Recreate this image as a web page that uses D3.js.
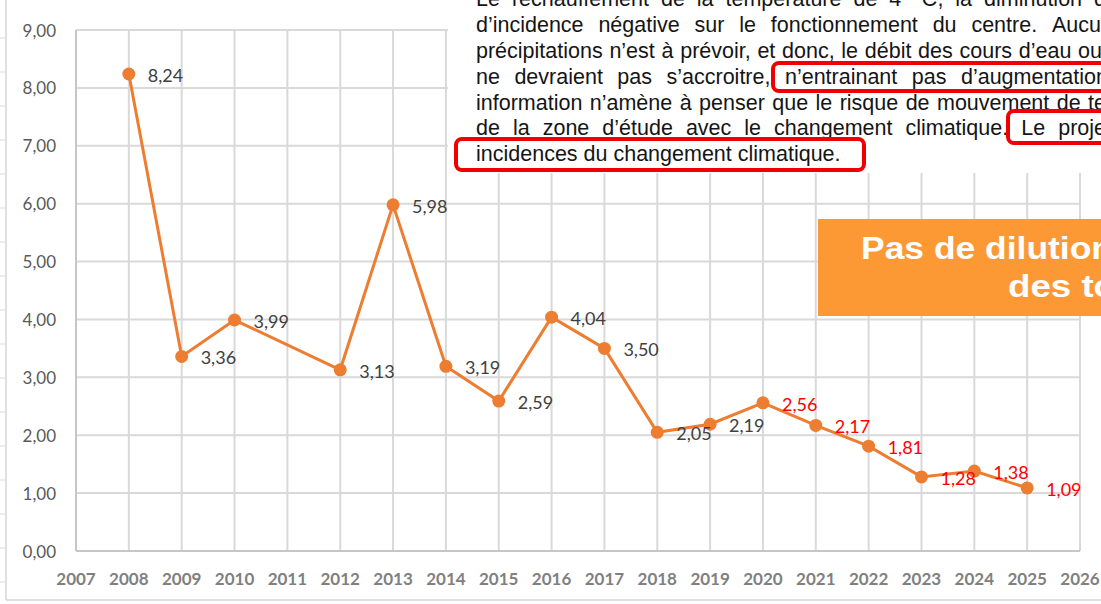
<!DOCTYPE html>
<html>
<head>
<meta charset="utf-8">
<script src="https://cdn.jsdelivr.net/npm/d3@7"></script>
<style>
  body { margin: 0; background: #fff; }
  svg { display: block; }
  .grid line { stroke: #d9d9d9; stroke-width: 2; }
  .axis-line { stroke: #c6c6c6; stroke-width: 2; }
  .ytick { font-family: Lato, sans-serif; font-size: 17px; fill: #595959; }
  .xtick { font-family: Lato, sans-serif; font-size: 17px; font-weight: bold; fill: #808080; }
  .label { font-family: Lato, sans-serif; font-size: 18px; }
  .para { font-family: "Liberation Sans", Arial, sans-serif; font-size: 21.5px; fill: #151515; }
  .banner { font-family: "Liberation Sans", Arial, sans-serif; font-size: 32px; font-weight: bold; fill: #fff; }
</style>
</head>
<body>
<div id="chart"></div>
<script>
// data
const years = [2008, 2009, 2010, 2012, 2013, 2014, 2015, 2016, 2017, 2018, 2019, 2020, 2021, 2022, 2023, 2024, 2025];
const values = [8.24, 3.36, 3.99, 3.13, 5.98, 3.19, 2.59, 4.04, 3.50, 2.05, 2.19, 2.56, 2.17, 1.81, 1.28, 1.38, 1.09];
const xTicks = [2007, 2008, 2009, 2010, 2011, 2012, 2013, 2014, 2015, 2016, 2017, 2018, 2019, 2020, 2021, 2022, 2023, 2024, 2025, 2026];
const yTicks = [0, 1, 2, 3, 4, 5, 6, 7, 8, 9];
const redFrom = 2020;

// texte du rapport en surimpression
const paraLines = [
    "Le réchauffement de la température de 4 °C, la diminution d",
    "d’incidence négative sur le fonctionnement du centre. Aucu",
    "précipitations n’est à prévoir, et donc, le débit des cours d’eau ou",
    "ne devraient pas s’accroitre, n’entrainant pas d’augmentation",
    "information n’amène à penser que le risque de mouvement de te",
    "de la zone d’étude avec le changement climatique. Le proje",
    "incidences du changement climatique."
];
const bannerLines = ["Pas de dilution", "des to"];

const W = 1101, H = 604;
const svg = d3.select("#chart").append("svg").attr("width", W).attr("height", H);

const x = d3.scaleLinear().domain([2007, 2026]).range([76, 1080]);
const y = d3.scaleLinear().domain([0, 9]).range([551, 30]);
const fmt = d3.formatLocale({decimal: ",", thousands: " ", grouping: [3], currency: ["", "€"]}).format(".2f");

// cadre extérieur (feuille)
svg.append("line").attr("x1", 6).attr("x2", 6).attr("y1", 0).attr("y2", 600).attr("stroke", "#d6d6d6").attr("stroke-width", 1.5);
svg.append("line").attr("x1", 6).attr("x2", W).attr("y1", 600).attr("y2", 600).attr("stroke", "#d6d6d6").attr("stroke-width", 1.5);
svg.append("g").selectAll("line").data(d3.range(38, 600, 34)).enter().append("line")
    .attr("x1", 0).attr("x2", 5).attr("y1", d => d).attr("y2", d => d).attr("stroke", "#dcdcdc");

// grille
const grid = svg.append("g").attr("class", "grid");
grid.selectAll(".gy").data(yTicks.slice(1)).enter().append("line")
    .attr("x1", x(2007)).attr("x2", x(2026)).attr("y1", d => y(d)).attr("y2", d => y(d));
grid.selectAll(".gx").data(xTicks.slice(1)).enter().append("line")
    .attr("x1", d => x(d)).attr("x2", d => x(d)).attr("y1", y(9)).attr("y2", y(0));
svg.append("line").attr("class", "axis-line").attr("x1", x(2007)).attr("x2", x(2007)).attr("y1", y(9)).attr("y2", y(0));
svg.append("line").attr("class", "axis-line").attr("x1", x(2007)).attr("x2", x(2026)).attr("y1", y(0)).attr("y2", y(0));

// étiquettes des axes
svg.append("g").selectAll("text").data(yTicks).enter().append("text").attr("class", "ytick")
    .attr("x", 56).attr("y", d => y(d)).attr("text-anchor", "end").attr("dominant-baseline", "central")
    .text(d => fmt(d));
svg.append("g").selectAll("text").data(xTicks).enter().append("text").attr("class", "xtick")
    .attr("x", d => x(d)).attr("y", 578).attr("text-anchor", "middle").attr("dominant-baseline", "central")
    .text(d => d);

// série
const pts = years.map((yr, i) => ({year: yr, value: values[i]}));
const line = d3.line().x(d => x(d.year)).y(d => y(d.value));
svg.append("path").datum(pts).attr("d", line).attr("fill", "none").attr("stroke", "#ed7d31").attr("stroke-width", 3);
svg.append("g").selectAll("circle").data(pts).enter().append("circle")
    .attr("cx", d => x(d.year)).attr("cy", d => y(d.value)).attr("r", 6.5).attr("fill", "#ed7d31");
svg.append("g").selectAll("text").data(pts).enter().append("text").attr("class", "label")
    .attr("x", d => x(d.year) + 19).attr("y", d => y(d.value) + 1).attr("dominant-baseline", "central")
    .attr("fill", d => d.year >= redFrom ? "#ff0000" : "#404040")
    .text(d => fmt(d.value));

// encart texte
const over = svg.append("g");
over.append("rect").attr("x", 448).attr("y", 0).attr("width", W - 448).attr("height", 173).attr("fill", "#fff");
const baselines = [6, 32, 58, 84, 110, 135, 161];
const lineEnds = [1106, 1101, 1102, 1108, 1106, 1106, null];
paraLines.forEach((txt, i) => {
    if (lineEnds[i] === null) {
        over.append("text").attr("class", "para").attr("x", 476).attr("y", baselines[i]).text(txt);
        return;
    }
    const words = txt.split(" ");
    const tmp = words.map(w => over.append("text").attr("class", "para").attr("y", baselines[i]).text(w));
    const widths = tmp.map(t => t.node().getComputedTextLength());
    const total = d3.sum(widths);
    const gap = (lineEnds[i] - 476 - total) / (words.length - 1);
    let cx = 476;
    tmp.forEach((t, k) => { t.attr("x", cx); cx += widths[k] + gap; });
});
const boxes = [[773, 63, 360, 28], [1008, 111, 140, 32], [456, 139, 408, 31]];
over.selectAll(".box").data(boxes).enter().append("rect")
    .attr("x", d => d[0]).attr("y", d => d[1]).attr("width", d => d[2]).attr("height", d => d[3])
    .attr("rx", 6).attr("fill", "none").attr("stroke", "#f00000").attr("stroke-width", 4);

// bandeau orange
svg.append("rect").attr("x", 818).attr("y", 219).attr("width", W - 818).attr("height", 97).attr("fill", "#fd9935");
svg.append("text").attr("class", "banner").attr("x", 861).attr("y", 259)
    .attr("textLength", 252).attr("lengthAdjust", "spacingAndGlyphs").text(bannerLines[0]);
svg.append("text").attr("class", "banner").attr("x", 1008).attr("y", 297)
    .attr("textLength", 108).attr("lengthAdjust", "spacingAndGlyphs").text(bannerLines[1]);
</script>
</body>
</html>
